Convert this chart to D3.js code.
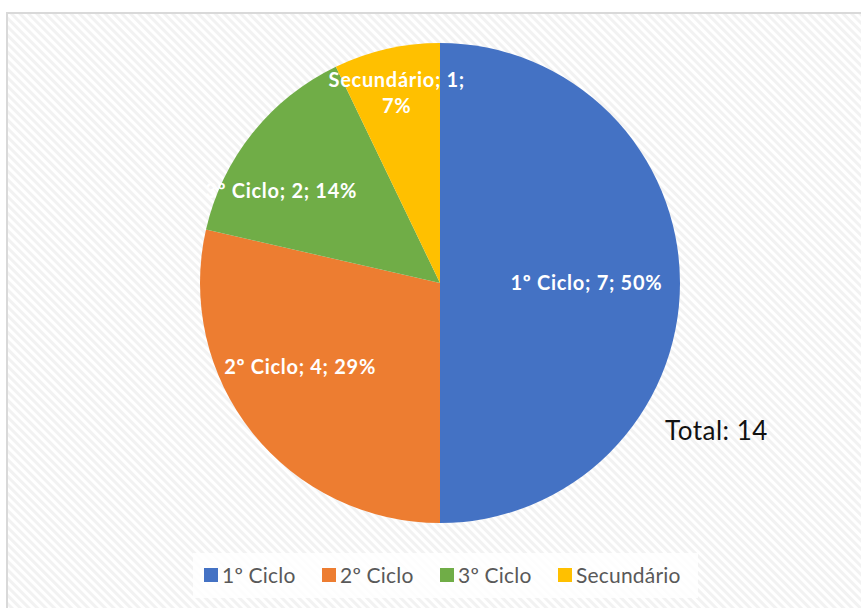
<!DOCTYPE html>
<html>
<head>
<meta charset="utf-8">
<script src="https://cdn.jsdelivr.net/npm/d3@7"></script>
<style>
  body { margin: 0; background: #ffffff; }
  svg { display: block; }
</style>
</head>
<body>
<div id="chart"></div>
<script>
// data
const categories = ["1º Ciclo", "2º Ciclo", "3º Ciclo", "Secundário"];
const values = [7, 4, 2, 1];
const colors = ["#4472c4", "#ed7d31", "#70ad47", "#ffc000"];
const totalLabel = "Total: 14";

// label placement (Excel "best fit" look): part of radius, and where along the slice angle
const labelDist = [0.61, 0.68, 0.765, 0.81];
const labelAlong = [0.5, 0.574, 0.335, 0.5];

const W = 861, H = 608;
const cx = 440, cy = 283, r = 240;
const font = "Lato, 'Open Sans', sans-serif";

svg = d3.select('#chart')
    .append('svg')
    .attr("width", W)
    .attr("height", H);

// diagonal stripe background
const defs = svg.append("defs");
const pat = defs.append("pattern")
    .attr("id", "stripes")
    .attr("width", 6)
    .attr("height", 6)
    .attr("patternUnits", "userSpaceOnUse")
    .attr("patternTransform", "rotate(45)");
pat.append("rect").attr("width", 6).attr("height", 6).style("fill", "#ffffff");
pat.append("rect").attr("width", 6).attr("height", 3).style("fill", "#f2f2f2");

// chart area with border
svg.append("rect")
    .attr("x", 7)
    .attr("y", 13)
    .attr("width", W)
    .attr("height", H)
    .style("fill", "url(#stripes)")
    .style("stroke", "#d9d9d9")
    .style("stroke-width", 2);

const total = d3.sum(values);
const rows = categories.map((c, i) => ({name: c, value: values[i], color: colors[i], i: i}));

const pie = d3.pie()
    .value(d => d.value)
    .sort(null);

const arc = d3.arc()
    .innerRadius(0)
    .outerRadius(r);

const g = svg.append("g")
    .attr("transform", `translate(${cx} ${cy})`);

const arcs = pie(rows);

g.selectAll("path")
    .data(arcs)
    .join("path")
    .attr("d", arc)
    .style("fill", d => d.data.color);

// data labels
arcs.forEach(d => {
    const k = d.data.i;
    const a = d.startAngle + labelAlong[k] * (d.endAngle - d.startAngle);
    const lr = r * labelDist[k];
    const x = lr * Math.sin(a), y = -lr * Math.cos(a);
    const pct = Math.round(d.data.value / total * 100) + "%";
    const lines = d.data.value / total < 0.1
        ? [`${d.data.name}; ${d.data.value};`, pct]
        : [`${d.data.name}; ${d.data.value}; ${pct}`];
    const t = g.append("text")
        .attr("text-anchor", "middle")
        .style("font-family", font)
        .style("font-size", "20px")
        .style("font-weight", "bold")
        .style("letter-spacing", "0.7px")
        .style("fill", "#ffffff");
    lines.forEach((ln, j) => {
        t.append("tspan")
            .attr("x", x)
            .attr("y", y + 7 + (j - (lines.length - 1) / 2) * 26)
            .text(ln);
    });
});

// total
svg.append("text")
    .text(totalLabel)
    .attr("x", 665)
    .attr("y", 440)
    .style("font-family", font)
    .style("font-size", "26px")
    .style("letter-spacing", "0.5px")
    .style("fill", "#111111");

// legend
const legend = svg.append("g");
legend.append("rect")
    .attr("x", 193)
    .attr("y", 553)
    .attr("width", 505)
    .attr("height", 45)
    .style("fill", "#ffffff")
    .style("opacity", 0.85);

const item = legend.selectAll("g.item")
    .data(rows)
    .join("g")
    .attr("class", "item")
    .attr("transform", (d, i) => `translate(${204 + i * 118} 575)`);

item.append("rect")
    .attr("x", 0)
    .attr("y", -7)
    .attr("width", 14)
    .attr("height", 14)
    .style("fill", d => d.color);

item.append("text")
    .text(d => d.name)
    .attr("x", 18)
    .attr("y", 8)
    .style("font-family", font)
    .style("font-size", "21px")
    .style("letter-spacing", "0.2px")
    .style("fill", "#595959");
</script>
</body>
</html>
